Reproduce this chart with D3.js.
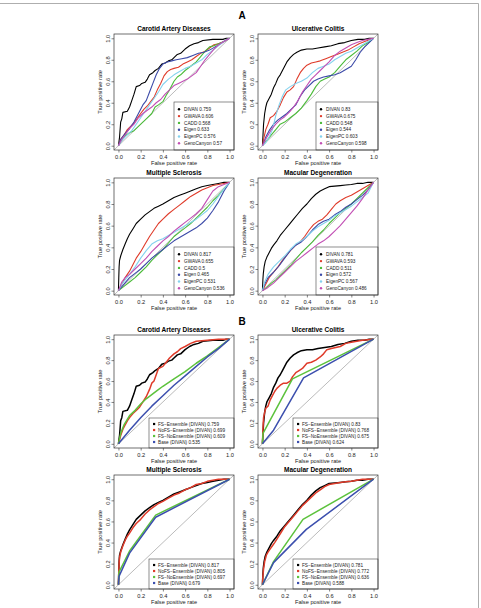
<!DOCTYPE html>
<html>
<head>
<meta charset="utf-8">
<script src="https://cdn.jsdelivr.net/npm/d3@7"></script>
<style>
body { margin: 0; background: #fff; }
svg { display: block; }
text { font-family: "Liberation Sans", Arial, Helvetica, sans-serif; }
</style>
</head>
<body>
<div id="chart"></div>
<script>
"use strict"

// ---- labels ----
var diseases = ["Carotid Artery Diseases", "Ulcerative Colitis", "Multiple Sclerosis", "Macular Degeneration"];
var methodsA = ["DIVAN", "GWAVA", "CADD", "Eigen", "EigenPC", "GenoCanyon"];
var methodsB = ["FS\u2212Ensemble (DIVAN)", "NoFS\u2212Ensemble (DIVAN)", "FS\u2212NoEnsemble (DIVAN)", "Base (DIVAN)"];
var aucA = [[0.759, 0.606, 0.568, 0.633, 0.576, 0.57],
            [0.83, 0.675, 0.548, 0.544, 0.603, 0.598],
            [0.817, 0.655, 0.5, 0.465, 0.531, 0.536],
            [0.781, 0.593, 0.511, 0.572, 0.567, 0.486]];
var aucB = [[0.759, 0.699, 0.609, 0.535],
            [0.83, 0.768, 0.675, 0.624],
            [0.817, 0.805, 0.697, 0.679],
            [0.781, 0.772, 0.636, 0.588]];
var tickValues = [0, 0.2, 0.4, 0.6, 0.8, 1.0];

// ---- ROC curves, [false positive rate, true positive rate] ----
// Carotid Artery Diseases
var carotidDIVAN = [[0,0],[0.01,0.08],[0.02,0.22],[0.03,0.25],[0.04,0.31],[0.08,0.32],[0.1,0.36],[0.12,0.42],[0.14,0.48],[0.16,0.55],[0.19,0.56],[0.21,0.58],[0.24,0.59],[0.26,0.62],[0.28,0.66],[0.31,0.68],[0.33,0.70],[0.36,0.72],[0.39,0.76],[0.42,0.77],[0.45,0.79],[0.48,0.80],[0.50,0.82],[0.53,0.85],[0.56,0.86],[0.60,0.90],[0.64,0.93],[0.68,0.95],[0.72,0.96],[0.76,0.98],[0.85,0.99],[0.94,0.99],[0.97,1],[1,1]];
var carotidGWAVA = [[0,0],[0.02,0.06],[0.05,0.1],[0.08,0.15],[0.1,0.17],[0.13,0.2],[0.16,0.24],[0.2,0.3],[0.23,0.34],[0.26,0.37],[0.29,0.41],[0.32,0.45],[0.35,0.52],[0.38,0.58],[0.41,0.65],[0.44,0.69],[0.47,0.71],[0.5,0.72],[0.54,0.73],[0.58,0.76],[0.62,0.78],[0.66,0.8],[0.7,0.83],[0.74,0.86],[0.78,0.88],[0.82,0.91],[0.86,0.94],[0.9,0.95],[0.95,0.97],[1,1]];
var carotidCADD = [[0,0],[0.03,0.05],[0.06,0.09],[0.1,0.12],[0.14,0.14],[0.18,0.18],[0.22,0.22],[0.26,0.26],[0.3,0.3],[0.33,0.36],[0.36,0.38],[0.4,0.41],[0.43,0.47],[0.46,0.52],[0.5,0.6],[0.53,0.64],[0.56,0.66],[0.6,0.7],[0.65,0.74],[0.7,0.78],[0.74,0.83],[0.78,0.88],[0.82,0.92],[0.86,0.93],[0.9,0.95],[0.95,0.97],[1,1]];
var carotidEigen = [[0,0],[0.02,0.06],[0.05,0.1],[0.1,0.16],[0.14,0.22],[0.18,0.3],[0.22,0.38],[0.25,0.42],[0.28,0.5],[0.31,0.58],[0.34,0.66],[0.37,0.72],[0.4,0.76],[0.44,0.78],[0.48,0.79],[0.52,0.8],[0.57,0.81],[0.62,0.82],[0.67,0.84],[0.72,0.86],[0.77,0.87],[0.82,0.89],[0.87,0.92],[0.92,0.95],[0.96,0.98],[1,1]];
var carotidEigenPC = [[0,0],[0.04,0.06],[0.08,0.1],[0.12,0.14],[0.16,0.2],[0.2,0.26],[0.24,0.32],[0.28,0.38],[0.32,0.44],[0.36,0.5],[0.4,0.57],[0.45,0.62],[0.5,0.66],[0.55,0.69],[0.6,0.72],[0.65,0.74],[0.7,0.77],[0.75,0.8],[0.8,0.85],[0.85,0.89],[0.9,0.93],[0.95,0.97],[1,1]];
var carotidGenoCanyon = [[0,0],[0.03,0.06],[0.06,0.1],[0.1,0.16],[0.14,0.2],[0.18,0.26],[0.22,0.3],[0.26,0.33],[0.3,0.36],[0.34,0.4],[0.38,0.43],[0.42,0.48],[0.46,0.52],[0.5,0.56],[0.54,0.58],[0.58,0.6],[0.62,0.62],[0.66,0.65],[0.7,0.68],[0.74,0.74],[0.78,0.8],[0.82,0.85],[0.86,0.9],[0.9,0.94],[0.95,0.97],[1,1]];
var carotidNoFS = [[0,0],[0.02,0.08],[0.04,0.14],[0.06,0.18],[0.08,0.22],[0.1,0.25],[0.13,0.29],[0.16,0.32],[0.19,0.35],[0.22,0.4],[0.25,0.45],[0.28,0.52],[0.3,0.58],[0.32,0.6],[0.34,0.66],[0.36,0.72],[0.4,0.74],[0.43,0.78],[0.46,0.82],[0.5,0.86],[0.53,0.88],[0.56,0.91],[0.6,0.93],[0.65,0.96],[0.7,0.98],[0.8,0.99],[0.9,1],[1,1]];
var carotidFSNoEns = [[0,0],[0.02,0.1],[0.05,0.18],[0.1,0.27],[0.15,0.32],[0.2,0.38],[0.25,0.43],[0.3,0.47],[0.35,0.51],[0.4,0.55],[0.5,0.62],[0.6,0.69],[0.7,0.77],[0.8,0.84],[0.9,0.92],[1,1]];
var carotidBase = [[0,0],[0.1,0.13],[0.2,0.25],[0.3,0.36],[0.4,0.46],[0.5,0.56],[0.6,0.65],[0.7,0.74],[0.8,0.83],[0.9,0.91],[1,1]];

// Ulcerative Colitis
var ucDIVAN = [[0,0],[0.005,0.1],[0.01,0.2],[0.02,0.3],[0.03,0.36],[0.04,0.4],[0.06,0.44],[0.08,0.48],[0.1,0.54],[0.12,0.58],[0.14,0.63],[0.16,0.66],[0.18,0.7],[0.2,0.74],[0.22,0.78],[0.25,0.82],[0.28,0.85],[0.31,0.87],[0.35,0.89],[0.4,0.9],[0.45,0.9],[0.5,0.91],[0.56,0.92],[0.62,0.93],[0.68,0.95],[0.74,0.96],[0.8,0.98],[0.86,0.99],[0.92,0.99],[0.96,1],[1,1]];
var ucGWAVA = [[0,0],[0.01,0.06],[0.03,0.15],[0.05,0.2],[0.07,0.26],[0.1,0.28],[0.13,0.32],[0.16,0.38],[0.19,0.45],[0.22,0.5],[0.25,0.52],[0.28,0.55],[0.31,0.62],[0.34,0.68],[0.37,0.72],[0.4,0.75],[0.44,0.77],[0.48,0.78],[0.52,0.79],[0.57,0.81],[0.62,0.83],[0.67,0.85],[0.72,0.87],[0.77,0.89],[0.82,0.92],[0.87,0.95],[0.92,0.97],[1,1]];
var ucCADD = [[0,0],[0.04,0.05],[0.08,0.1],[0.12,0.15],[0.16,0.2],[0.2,0.22],[0.25,0.26],[0.3,0.3],[0.35,0.35],[0.4,0.42],[0.44,0.48],[0.48,0.55],[0.52,0.6],[0.56,0.62],[0.6,0.64],[0.65,0.68],[0.7,0.74],[0.75,0.8],[0.8,0.84],[0.85,0.88],[0.9,0.93],[0.95,0.96],[1,1]];
var ucEigen = [[0,0],[0.03,0.08],[0.06,0.14],[0.1,0.2],[0.14,0.24],[0.18,0.27],[0.22,0.3],[0.26,0.34],[0.3,0.38],[0.34,0.46],[0.38,0.52],[0.42,0.56],[0.46,0.6],[0.5,0.62],[0.55,0.64],[0.6,0.65],[0.65,0.66],[0.7,0.68],[0.75,0.71],[0.8,0.74],[0.84,0.8],[0.88,0.87],[0.92,0.92],[0.96,0.96],[1,1]];
var ucEigenPC = [[0,0],[0.03,0.03],[0.06,0.08],[0.09,0.15],[0.12,0.28],[0.15,0.38],[0.18,0.46],[0.21,0.52],[0.25,0.55],[0.3,0.58],[0.35,0.6],[0.4,0.63],[0.45,0.68],[0.5,0.72],[0.55,0.74],[0.6,0.76],[0.65,0.8],[0.7,0.83],[0.75,0.86],[0.8,0.88],[0.85,0.91],[0.9,0.94],[0.95,0.97],[1,1]];
var ucGenoCanyon = [[0,0],[0.04,0.08],[0.08,0.15],[0.12,0.2],[0.16,0.24],[0.2,0.27],[0.24,0.31],[0.28,0.36],[0.32,0.42],[0.36,0.5],[0.4,0.56],[0.44,0.62],[0.48,0.66],[0.52,0.7],[0.56,0.74],[0.6,0.78],[0.65,0.84],[0.7,0.88],[0.75,0.91],[0.8,0.94],[0.85,0.96],[0.9,0.98],[0.95,0.99],[1,1]];
var ucNoFS = [[0,0],[0.005,0.15],[0.01,0.25],[0.02,0.3],[0.03,0.34],[0.05,0.36],[0.07,0.42],[0.09,0.46],[0.11,0.5],[0.13,0.53],[0.16,0.56],[0.19,0.58],[0.22,0.58],[0.25,0.6],[0.27,0.64],[0.3,0.68],[0.33,0.7],[0.36,0.72],[0.4,0.77],[0.44,0.78],[0.48,0.8],[0.52,0.83],[0.55,0.86],[0.58,0.9],[0.62,0.91],[0.66,0.92],[0.7,0.93],[0.75,0.96],[0.8,0.97],[0.85,0.98],[0.9,0.99],[1,1]];
var ucFSNoEns = [[0,0],[0.005,0.1],[0.27,0.62],[1,1]];
var ucBase = [[0,0],[0.1,0.13],[0.37,0.63],[1,1]];

// Multiple Sclerosis
var msDIVAN = [[0,0],[0.003,0.12],[0.006,0.22],[0.01,0.28],[0.02,0.32],[0.04,0.38],[0.06,0.43],[0.08,0.48],[0.1,0.52],[0.13,0.57],[0.16,0.62],[0.2,0.66],[0.24,0.7],[0.28,0.73],[0.32,0.76],[0.36,0.78],[0.4,0.8],[0.45,0.83],[0.5,0.86],[0.55,0.88],[0.6,0.9],[0.65,0.92],[0.7,0.94],[0.75,0.96],[0.8,0.97],[0.85,0.98],[0.9,0.99],[0.95,1],[1,1]];
var msGWAVA = [[0,0],[0.03,0.06],[0.06,0.12],[0.1,0.18],[0.13,0.24],[0.16,0.3],[0.2,0.36],[0.24,0.43],[0.28,0.5],[0.32,0.56],[0.36,0.62],[0.4,0.66],[0.45,0.71],[0.5,0.75],[0.55,0.79],[0.6,0.83],[0.65,0.87],[0.7,0.9],[0.75,0.93],[0.8,0.95],[0.85,0.97],[0.9,0.98],[0.95,0.99],[1,1]];
var msCADD = [[0,0],[0.05,0.04],[0.1,0.08],[0.15,0.12],[0.2,0.17],[0.25,0.22],[0.3,0.28],[0.35,0.33],[0.4,0.38],[0.45,0.44],[0.5,0.5],[0.55,0.54],[0.6,0.58],[0.65,0.62],[0.7,0.67],[0.75,0.72],[0.8,0.77],[0.85,0.83],[0.9,0.88],[0.95,0.94],[1,1]];
var msEigen = [[0,0],[0.05,0.06],[0.1,0.12],[0.15,0.16],[0.2,0.2],[0.25,0.25],[0.3,0.3],[0.35,0.34],[0.4,0.38],[0.45,0.42],[0.5,0.46],[0.55,0.49],[0.6,0.52],[0.65,0.55],[0.7,0.58],[0.75,0.62],[0.8,0.67],[0.85,0.74],[0.9,0.82],[0.95,0.92],[1,1]];
var msEigenPC = [[0,0],[0.03,0.06],[0.06,0.1],[0.1,0.15],[0.15,0.22],[0.2,0.3],[0.25,0.37],[0.3,0.43],[0.35,0.46],[0.4,0.48],[0.45,0.51],[0.5,0.54],[0.55,0.57],[0.6,0.6],[0.65,0.63],[0.7,0.66],[0.75,0.7],[0.8,0.74],[0.85,0.8],[0.9,0.87],[0.95,0.94],[1,1]];
var msGenoCanyon = [[0,0],[0.03,0.08],[0.06,0.12],[0.1,0.15],[0.15,0.2],[0.2,0.25],[0.25,0.3],[0.3,0.36],[0.35,0.41],[0.4,0.46],[0.45,0.5],[0.5,0.55],[0.55,0.59],[0.6,0.63],[0.65,0.67],[0.7,0.71],[0.75,0.76],[0.8,0.84],[0.85,0.92],[0.9,0.96],[0.95,0.98],[1,1]];
var msNoFS = [[0,0],[0.003,0.12],[0.006,0.2],[0.01,0.26],[0.02,0.31],[0.04,0.37],[0.06,0.42],[0.08,0.46],[0.1,0.49],[0.13,0.54],[0.16,0.58],[0.2,0.62],[0.24,0.67],[0.28,0.71],[0.32,0.74],[0.36,0.77],[0.4,0.79],[0.45,0.82],[0.5,0.85],[0.55,0.87],[0.6,0.9],[0.65,0.92],[0.7,0.95],[0.75,0.96],[0.8,0.98],[0.85,0.99],[0.9,1],[1,1]];
var msFSNoEns = [[0,0],[0.005,0.12],[0.1,0.32],[0.335,0.66],[1,1]];
var msBase = [[0,0],[0.005,0.08],[0.1,0.3],[0.335,0.64],[1,1]];

// Macular Degeneration
var mdDIVAN = [[0,0],[0.004,0.1],[0.008,0.16],[0.015,0.22],[0.025,0.27],[0.04,0.31],[0.06,0.35],[0.08,0.39],[0.1,0.42],[0.13,0.46],[0.16,0.51],[0.2,0.56],[0.24,0.61],[0.28,0.66],[0.32,0.71],[0.36,0.76],[0.4,0.8],[0.44,0.85],[0.48,0.89],[0.52,0.92],[0.56,0.94],[0.6,0.96],[0.65,0.965],[0.7,0.97],[0.75,0.975],[0.8,0.98],[0.85,0.99],[0.9,0.99],[0.95,1],[1,1]];
var mdGWAVA = [[0,0],[0.03,0.06],[0.06,0.12],[0.1,0.17],[0.14,0.22],[0.18,0.28],[0.22,0.33],[0.26,0.38],[0.3,0.42],[0.34,0.45],[0.38,0.5],[0.42,0.56],[0.46,0.61],[0.5,0.64],[0.54,0.66],[0.58,0.7],[0.62,0.75],[0.66,0.8],[0.7,0.83],[0.75,0.86],[0.8,0.88],[0.85,0.91],[0.9,0.94],[0.95,0.97],[1,1]];
var mdCADD = [[0,0],[0.04,0.03],[0.08,0.07],[0.12,0.1],[0.16,0.14],[0.2,0.18],[0.25,0.23],[0.3,0.29],[0.35,0.35],[0.4,0.4],[0.45,0.45],[0.5,0.51],[0.55,0.56],[0.6,0.62],[0.65,0.67],[0.7,0.72],[0.75,0.76],[0.8,0.8],[0.85,0.85],[0.9,0.9],[0.95,0.95],[1,1]];
var mdEigen = [[0,0],[0.02,0.06],[0.05,0.12],[0.1,0.17],[0.15,0.23],[0.2,0.3],[0.25,0.37],[0.3,0.42],[0.35,0.45],[0.4,0.5],[0.45,0.56],[0.5,0.61],[0.55,0.64],[0.6,0.66],[0.65,0.7],[0.7,0.73],[0.75,0.77],[0.8,0.8],[0.85,0.84],[0.9,0.88],[0.95,0.93],[1,1]];
var mdEigenPC = [[0,0],[0.02,0.08],[0.05,0.15],[0.1,0.22],[0.15,0.27],[0.2,0.32],[0.25,0.38],[0.3,0.43],[0.35,0.46],[0.4,0.5],[0.45,0.55],[0.5,0.59],[0.55,0.62],[0.6,0.65],[0.65,0.69],[0.7,0.72],[0.75,0.75],[0.8,0.78],[0.85,0.82],[0.9,0.86],[0.95,0.9],[1,1]];
var mdGenoCanyon = [[0,0],[0.05,0.03],[0.1,0.07],[0.15,0.12],[0.2,0.17],[0.25,0.22],[0.3,0.27],[0.35,0.31],[0.4,0.35],[0.45,0.39],[0.5,0.43],[0.55,0.46],[0.6,0.5],[0.65,0.55],[0.7,0.6],[0.75,0.66],[0.8,0.72],[0.85,0.78],[0.9,0.85],[0.95,0.93],[1,1]];
var mdNoFS = [[0,0],[0.004,0.08],[0.01,0.15],[0.02,0.22],[0.035,0.28],[0.05,0.31],[0.07,0.34],[0.09,0.37],[0.11,0.4],[0.14,0.45],[0.17,0.5],[0.2,0.55],[0.24,0.6],[0.28,0.65],[0.32,0.7],[0.36,0.75],[0.4,0.79],[0.44,0.83],[0.48,0.87],[0.52,0.9],[0.56,0.93],[0.6,0.95],[0.65,0.96],[0.7,0.97],[0.75,0.975],[0.8,0.98],[0.85,0.99],[0.9,1],[1,1]];
var mdFSNoEns = [[0,0],[0.1,0.22],[0.365,0.62],[1,1]];
var mdBase = [[0,0],[0.1,0.21],[0.395,0.525],[1,1]];

var curvesA = [
    [carotidDIVAN, carotidGWAVA, carotidCADD, carotidEigen, carotidEigenPC, carotidGenoCanyon],
    [ucDIVAN, ucGWAVA, ucCADD, ucEigen, ucEigenPC, ucGenoCanyon],
    [msDIVAN, msGWAVA, msCADD, msEigen, msEigenPC, msGenoCanyon],
    [mdDIVAN, mdGWAVA, mdCADD, mdEigen, mdEigenPC, mdGenoCanyon]];
var curvesB = [
    [carotidDIVAN, carotidNoFS, carotidFSNoEns, carotidBase],
    [ucDIVAN, ucNoFS, ucFSNoEns, ucBase],
    [msDIVAN, msNoFS, msFSNoEns, msBase],
    [mdDIVAN, mdNoFS, mdFSNoEns, mdBase]];

var colorsA = ["#000000", "#df3b2a", "#4cbb3a", "#3c4aa8", "#84d2ee", "#c24fb4"];
var colorsB = ["#000000", "#df3b2a", "#5cc23c", "#3c4fae"];

// ---- layout ----
var colX = [114, 258];
var boxW = 120;
var rows = [[34, 150], [178, 295], [335, 448], [475, 589]];
var fmt = d3.format(".1f");

var svg = d3.select("#chart").append("svg")
    .attr("width", 481)
    .attr("height", 608);

// page frame
svg.append("line").attr("x1", 0).attr("x2", 478.5).attr("y1", 3.5).attr("y2", 3.5)
    .attr("stroke", "#999").attr("stroke-width", 0.8);
svg.append("line").attr("x1", 478.5).attr("x2", 478.5).attr("y1", 3.5).attr("y2", 608)
    .attr("stroke", "#999").attr("stroke-width", 0.8);

svg.append("text").attr("x", 242).attr("y", 19).attr("text-anchor", "middle")
    .attr("font-size", 10).attr("font-weight", "bold").text("A");
svg.append("text").attr("x", 242).attr("y", 325).attr("text-anchor", "middle")
    .attr("font-size", 10).attr("font-weight", "bold").text("B");

function drawPanel(x0, y0, y1, title, curves, labels, colors, isB) {
    var x = d3.scaleLinear().domain([-0.04, 1.04]).range([x0, x0 + boxW]);
    var y = d3.scaleLinear().domain([-0.04, 1.04]).range([y1, y0]);
    var g = svg.append("g");

    var clipId = "clip" + x0 + "_" + y0;
    g.append("clipPath").attr("id", clipId)
        .append("rect").attr("x", x0).attr("y", y0).attr("width", boxW).attr("height", y1 - y0);

    var plot = g.append("g").attr("clip-path", "url(#" + clipId + ")");
    // diagonal
    plot.append("line")
        .attr("x1", x(-0.04)).attr("y1", y(-0.04))
        .attr("x2", x(1.04)).attr("y2", y(1.04))
        .attr("stroke", "#777").attr("stroke-width", 0.5);

    var line = d3.line().x(function(d) { return x(d[0]); }).y(function(d) { return y(d[1]); });
    plot.selectAll("path.roc")
        .data(curves)
        .enter()
        .append("path")
        .attr("class", "roc")
        .attr("d", line)
        .attr("fill", "none")
        .attr("stroke", function(d, i) { return colors[i]; })
        .attr("stroke-width", isB ? 1.5 : 1.1)
        .attr("stroke-linejoin", "round");

    // legend
    var lw = isB ? 85 : (x0 > 200 ? 62 : 60);
    var lh = isB ? 30 : 48;
    var lx = x0 + boxW - lw;
    var ly = y1 - lh;
    var first = isB ? 6 : 7.3;
    var step = isB ? 6 : 6.8;
    var leg = g.append("g");
    leg.append("rect").attr("x", lx).attr("y", ly).attr("width", lw).attr("height", lh)
        .attr("fill", "#fff").attr("stroke", "#444").attr("stroke-width", 0.6);
    var items = leg.selectAll("g.item")
        .data(labels)
        .enter()
        .append("g")
        .attr("class", "item")
        .attr("transform", function(d, i) { return "translate(" + lx + "," + (ly + first + i * step) + ")"; });
    if (isB) {
        items.append("rect").attr("x", 4).attr("y", -1.1).attr("width", 2.2).attr("height", 2.2)
            .attr("fill", function(d, i) { return colors[i]; });
    } else {
        items.append("circle").attr("cx", 5).attr("cy", 0).attr("r", 1.2)
            .attr("fill", function(d, i) { return colors[i]; });
    }
    items.append("text")
        .attr("x", isB ? 9 : 10)
        .attr("y", 1.7)
        .attr("font-size", 4.7)
        .attr("fill", "#222")
        .text(function(d) { return d; });

    // box
    g.append("rect").attr("x", x0).attr("y", y0).attr("width", boxW).attr("height", y1 - y0)
        .attr("fill", "none").attr("stroke", "#333").attr("stroke-width", 0.7);

    // axes
    var xa = g.append("g")
        .attr("transform", "translate(0," + y1 + ")")
        .call(d3.axisBottom(x).tickValues(tickValues).tickFormat(fmt).tickSize(2.5).tickPadding(2.3));
    xa.select(".domain").remove();
    xa.attr("font-size", 5.7).attr("font-family", null);
    xa.selectAll("line").attr("stroke", "#333").attr("stroke-width", 0.6);
    xa.selectAll("text").attr("fill", "#222");

    var ya = g.append("g")
        .attr("transform", "translate(" + x0 + ",0)")
        .call(d3.axisLeft(y).tickValues(tickValues).tickFormat(fmt).tickSize(2.5));
    ya.select(".domain").remove();
    ya.attr("font-size", 5.7).attr("font-family", null);
    ya.selectAll("line").attr("stroke", "#333").attr("stroke-width", 0.6);
    ya.selectAll("text")
        .attr("fill", "#222")
        .attr("transform", "rotate(-90)")
        .attr("x", 0).attr("y", -4.4).attr("dy", null)
        .style("text-anchor", "middle");

    // titles
    g.append("text").attr("x", x0 + boxW / 2).attr("y", y0 - 2.6)
        .attr("text-anchor", "middle").attr("font-size", 6.5).attr("font-weight", "bold")
        .text(title);
    g.append("text").attr("x", x0 + boxW / 2).attr("y", y1 + 15)
        .attr("text-anchor", "middle").attr("font-size", 5.7).attr("fill", "#222")
        .text("False positive rate");
    g.append("text")
        .attr("transform", "translate(" + (x0 - 12) + "," + ((y0 + y1) / 2) + ") rotate(-90)")
        .attr("text-anchor", "middle").attr("font-size", 5.7).attr("fill", "#222")
        .text("True positive rate");
}

for (var k = 0; k < 4; k++) {
    var col = k % 2;
    var r = Math.floor(k / 2);
    var labelsA = methodsA.map(function(m, i) { return m + " " + aucA[k][i]; });
    drawPanel(colX[col], rows[r][0], rows[r][1], diseases[k], curvesA[k], labelsA, colorsA, false);
    var labelsB = methodsB.map(function(m, i) { return m + " " + aucB[k][i]; });
    drawPanel(colX[col], rows[r + 2][0], rows[r + 2][1], diseases[k], curvesB[k], labelsB, colorsB, true);
}
</script>
</body>
</html>
